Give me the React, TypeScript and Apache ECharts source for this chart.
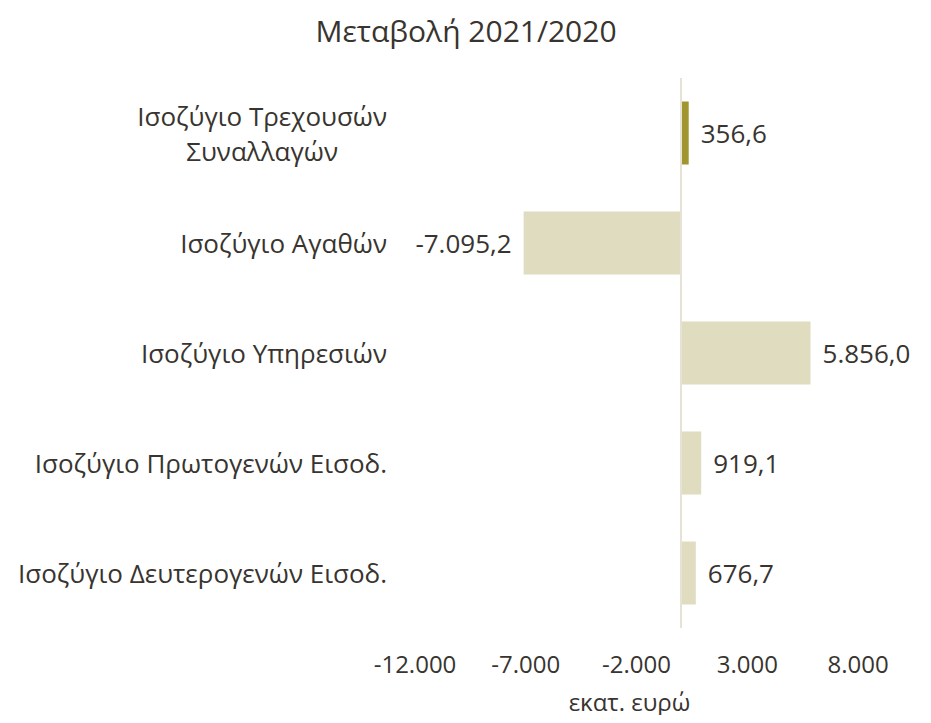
import React, { useEffect, useRef } from "react";
import * as echarts from "echarts";

const categories = [
  "Ισοζύγιο Τρεχουσών\nΣυναλλαγών",
  "Ισοζύγιο Αγαθών",
  "Ισοζύγιο Υπηρεσιών",
  "Ισοζύγιο Πρωτογενών Εισοδ.",
  "Ισοζύγιο Δευτερογενών Εισοδ.",
];
const values = [356.6, -7095.2, 5856.0, 919.1, 676.7];
const barColors = ["#a0952f", "#e0dcbf", "#e0dcbf", "#e0dcbf", "#e0dcbf"];
const valueLabels = ["356,6", "-7.095,2", "5.856,0", "919,1", "676,7"];
const titleText = "Μεταβολή 2021/2020";
const axisNameText = "εκατ. ευρώ";

function fmtThousands(v: number): string {
  const neg = v < 0;
  const s = Math.abs(Math.round(v)).toString().replace(/\B(?=(\d{3})+(?!\d))/g, ".");
  return (neg ? "-" : "") + s;
}

export default function App() {
  const ref = useRef<HTMLDivElement>(null);
  useEffect(() => {
    if (!ref.current) return;
    const chart = echarts.init(ref.current, null, { renderer: "svg" });
    const textColor = "#38342f";
    const font = "Open Sans";
    chart.setOption({
      animation: false,
      backgroundColor: "#ffffff",
      title: {
        text: titleText,
        left: 461,
        textAlign: "center",
        top: 10,
        textStyle: {
          fontFamily: font,
          fontSize: 30,
          fontWeight: "normal",
          color: textColor,
        },
      },
      grid: { left: 415, right: 73, top: 78, bottom: 95, containLabel: false },
      xAxis: {
        type: "value",
        min: -12000,
        max: 8000,
        interval: 5000,
        axisLine: { show: false },
        axisTick: { show: false },
        splitLine: { show: false },
        axisLabel: {
          margin: 23,
          fontFamily: font,
          fontSize: 24,
          color: textColor,
          formatter: (v: number) => fmtThousands(v),
        },
        name: axisNameText,
        nameLocation: "middle",
        nameGap: 61,
        nameTextStyle: {
          fontFamily: font,
          fontSize: 24,
          color: textColor,
          padding: [0, 14, 0, 0],
        },
      },
      yAxis: {
        type: "category",
        data: categories,
        inverse: true,
        axisLine: { show: false },
        axisTick: { show: false },
        splitLine: { show: false },
        axisLabel: {
          margin: 28,
          color: textColor,
          fontFamily: font,
          fontSize: 26,
          formatter: (v: string) =>
            v
              .split("\n")
              .map((l) => "{a|" + l + "}")
              .join("\n"),
          rich: {
            a: {
              align: "center",
              fontFamily: font,
              fontSize: 26,
              color: textColor,
              lineHeight: 35,
            },
          },
        },
      },
      series: [
        {
          type: "bar",
          barWidth: 63,
          data: values.map((v, i) => ({
            value: v,
            itemStyle: { color: barColors[i] },
            label: {
              show: true,
              position: v >= 0 ? "right" : "left",
              distance: 12,
              formatter: () => valueLabels[i],
              fontFamily: font,
              fontSize: 26,
              color: textColor,
            },
          })),
          markLine: {
            silent: true,
            symbol: "none",
            label: { show: false },
            lineStyle: { color: "#e6e2d6", width: 2, type: "solid" },
            data: [{ xAxis: 0 }],
          },
        },
      ],
    });
    return () => chart.dispose();
  }, []);
  return <div ref={ref} style={{ width: 931, height: 723, margin: -8 }} />;
}
